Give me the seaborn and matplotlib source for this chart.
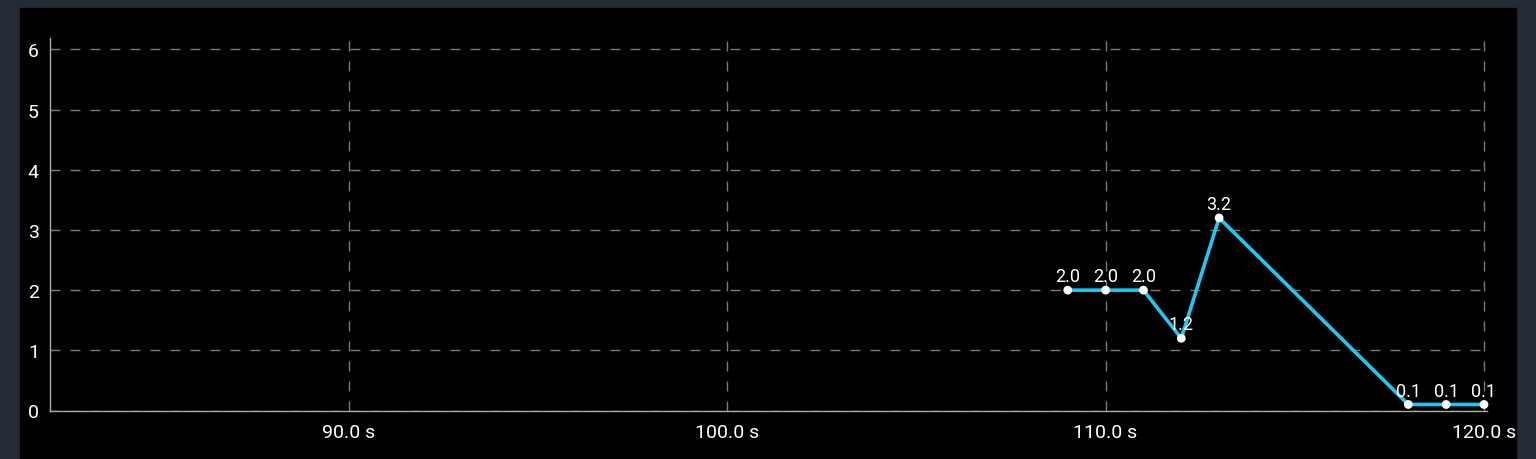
import matplotlib
matplotlib.use('Agg')
import matplotlib.pyplot as plt
import matplotlib.patches as mpatches
import seaborn as sns
import pandas as pd

# data
times = [109, 110, 111, 112, 113, 118, 119, 120]
values = [2.0, 2.0, 2.0, 1.2, 3.2, 0.1, 0.1, 0.1]
xticks = [90, 100, 110, 120]
yticks = [0, 1, 2, 3, 4, 5, 6]

df = pd.DataFrame({'t': times, 'v': values})

sns.set_style('dark')
plt.rcParams['font.family'] = ['Roboto', 'DejaVu Sans']

W, H = 1536, 460
fig = plt.figure(figsize=(W / 100, H / 100), dpi=100)
fig.patch.set_facecolor('#252b35')
fig.patches.append(mpatches.Rectangle((20 / W, 0), 1496 / W, (H - 9) / H,
                                      transform=fig.transFigure, color='black', zorder=-5))

ax = fig.add_axes([50 / W, (H - 411.5) / H, 1437 / W, (411.5 - 39) / H])
ax.set_facecolor('black')

sns.lineplot(data=df, x='t', y='v', ax=ax, color='#1ec8f0', linewidth=2.6,
             zorder=3, clip_on=False)
sns.scatterplot(data=df, x='t', y='v', ax=ax, color='white', s=40,
                edgecolor='none', zorder=4, clip_on=False)

for t, v in zip(times, values):
    ax.annotate(f'{v:.1f}', (t, v), xytext=(0, 3.5), textcoords='offset points',
                ha='center', va='bottom', color='white', fontsize=13, zorder=5)

ax.set_xlim(82.1, 120.08)
ax.set_ylim(0, 6.19)
ax.set_xticks(xticks)
ax.set_xticklabels([f'{x:.1f} s' for x in xticks])
ax.set_yticks(yticks)
ax.set_xlabel('')
ax.set_ylabel('')

ax.grid(True, color='#7a7a7a', linestyle=(0, (7.2, 7.2)), linewidth=1)
ax.tick_params(axis='both', colors='white', labelsize=14, length=0)
ax.tick_params(axis='x', pad=9)
ax.tick_params(axis='y', pad=8)

for s in ['top', 'right']:
    ax.spines[s].set_visible(False)
for s in ['left', 'bottom']:
    ax.spines[s].set_visible(True)
    ax.spines[s].set_color('#aaaaaa')
    ax.spines[s].set_linewidth(1)

fig.savefig('out.png', dpi=100, facecolor=fig.get_facecolor())
